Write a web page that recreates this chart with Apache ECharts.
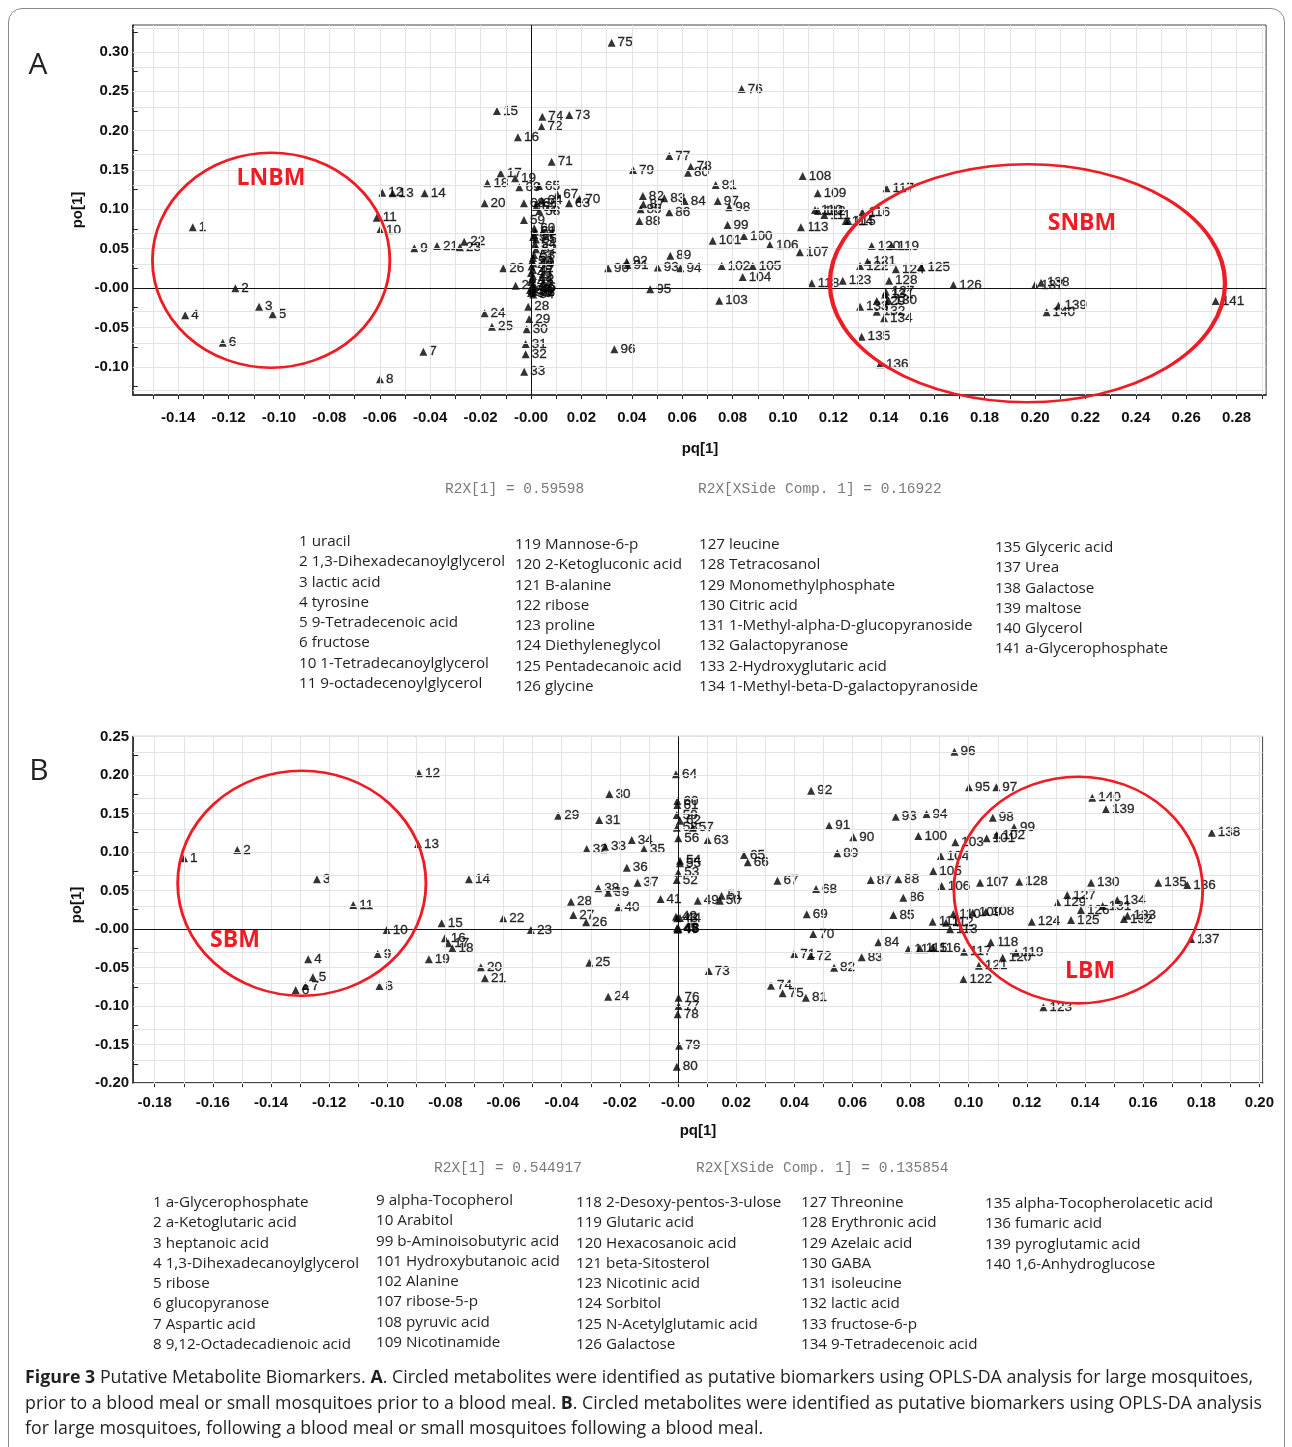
<!DOCTYPE html>
<html>
<head>
<meta charset="utf-8">
<script src="https://cdn.jsdelivr.net/npm/echarts@6/dist/echarts.min.js"></script>
<style>
  html, body { margin: 0; padding: 0; background: #fff; }
  body { width: 1292px; height: 1447px; position: relative; overflow: hidden; }
  #frame { position: absolute; left: 8px; top: 8px; width: 1275px; height: 1470px;
           border: 1px solid #8a8a8a; border-radius: 14px; }
  #chart { position: absolute; left: 0; top: 0; width: 1292px; height: 1447px; }
  .t { position: absolute; white-space: nowrap; color: #111; }
  .c { transform: translate(-50%, -50%); }
  .panel { font: 30px "Open Sans", sans-serif; color: #222; }
  .axname { font: bold 15px "Liberation Sans", Arial, sans-serif; }
  .rot { transform: translate(-50%, -50%) rotate(-90deg); }
  .r2x { font: 14.5px "Liberation Mono", monospace; color: #7a7a7a; transform: translateY(-50%); }
  .tag { font: bold 23px "Open Sans", sans-serif; color: #ee1c24; }
  .leg { position: absolute; font: 15.2px "Open Sans", sans-serif; line-height: 20.3px; color: #231f20; white-space: nowrap; }
  #cap { position: absolute; left: 25px; top: 1364px; font: 17.8px "Open Sans", sans-serif;
         line-height: 25.5px; color: #231f20; white-space: nowrap; }
</style>
</head>
<body>
<div id="frame"></div>
<div id="chart"></div>

<!-- panel A texts -->
<div class="t c panel" style="left:38px;top:62px">A</div>
<div class="t c axname" style="left:700px;top:447px">pq[1]</div>
<div class="t axname rot" style="left:76px;top:210px">po[1]</div>
<div class="t r2x" style="left:445px;top:489px">R2X[1] = 0.59598</div>
<div class="t r2x" style="left:698px;top:489px">R2X[XSide Comp. 1] = 0.16922</div>
<div class="t c tag" style="left:271px;top:176px">LNBM</div>
<div class="t c tag" style="left:1082px;top:221px">SNBM</div>

<div class="leg" style="left:299px;top:530px">1 uracil<br>2 1,3-Dihexadecanoylglycerol<br>3 lactic acid<br>4 tyrosine<br>5 9-Tetradecenoic acid<br>6 fructose<br>10 1-Tetradecanoylglycerol<br>11 9-octadecenoylglycerol</div>
<div class="leg" style="left:515px;top:533px">119 Mannose-6-p<br>120 2-Ketogluconic acid<br>121 B-alanine<br>122 ribose<br>123 proline<br>124 Diethyleneglycol<br>125 Pentadecanoic acid<br>126 glycine</div>
<div class="leg" style="left:699px;top:533px">127 leucine<br>128 Tetracosanol<br>129 Monomethylphosphate<br>130 Citric acid<br>131 1-Methyl-alpha-D-glucopyranoside<br>132 Galactopyranose<br>133 2-Hydroxyglutaric acid<br>134 1-Methyl-beta-D-galactopyranoside</div>
<div class="leg" style="left:995px;top:536px">135 Glyceric acid<br>137 Urea<br>138 Galactose<br>139 maltose<br>140 Glycerol<br>141 a-Glycerophosphate</div>

<!-- panel B texts -->
<div class="t c panel" style="left:39px;top:768px">B</div>
<div class="t c axname" style="left:698px;top:1129px">pq[1]</div>
<div class="t axname rot" style="left:75px;top:905px">po[1]</div>
<div class="t r2x" style="left:434px;top:1168px">R2X[1] = 0.544917</div>
<div class="t r2x" style="left:696px;top:1168px">R2X[XSide Comp. 1] = 0.135854</div>
<div class="t c tag" style="left:235px;top:938px">SBM</div>
<div class="t c tag" style="left:1090px;top:969px">LBM</div>

<div class="leg" style="left:153px;top:1191px">1 a-Glycerophosphate<br>2 a-Ketoglutaric acid<br>3 heptanoic acid<br>4 1,3-Dihexadecanoylglycerol<br>5 ribose<br>6 glucopyranose<br>7 Aspartic acid<br>8 9,12-Octadecadienoic acid</div>
<div class="leg" style="left:376px;top:1189px">9 alpha-Tocopherol<br>10 Arabitol<br>99 b-Aminoisobutyric acid<br>101 Hydroxybutanoic acid<br>102 Alanine<br>107 ribose-5-p<br>108 pyruvic acid<br>109 Nicotinamide</div>
<div class="leg" style="left:576px;top:1191px">118 2-Desoxy-pentos-3-ulose<br>119 Glutaric acid<br>120 Hexacosanoic acid<br>121 beta-Sitosterol<br>123 Nicotinic acid<br>124 Sorbitol<br>125 N-Acetylglutamic acid<br>126 Galactose</div>
<div class="leg" style="left:801px;top:1191px">127 Threonine<br>128 Erythronic acid<br>129 Azelaic acid<br>130 GABA<br>131 isoleucine<br>132 lactic acid<br>133 fructose-6-p<br>134 9-Tetradecenoic acid</div>
<div class="leg" style="left:985px;top:1192px">135 alpha-Tocopherolacetic acid<br>136 fumaric acid<br>139 pyroglutamic acid<br>140 1,6-Anhydroglucose</div>

<div id="cap"><b>Figure 3</b> Putative Metabolite Biomarkers. <b>A</b>. Circled metabolites were identified as putative biomarkers using OPLS-DA analysis for large mosquitoes,<br>prior to a blood meal or small mosquitoes prior to a blood meal. <b>B</b>. Circled metabolites were identified as putative biomarkers using OPLS-DA analysis<br>for large mosquitoes, following a blood meal or small mosquitoes following a blood meal.</div>

<script>
// ---- panel A: metabolites 1..141 (pq[1], po[1]) ----
const pqA = [
  -0.1342, -0.1173, -0.1079, -0.1372, -0.1025, -0.1223, -0.0427, -0.0599, -0.0463, -0.0599,
  -0.0612, -0.0590, -0.0549, -0.0422, -0.0135, -0.0052, -0.0120, -0.0173, -0.0063, -0.0184,
  -0.0373, -0.0265, -0.0282, -0.0184, -0.0155, -0.0110, -0.0061, -0.0011, -0.0007, -0.0017,
  -0.0021, -0.0021, -0.0027, 0.0009, 0.0000, 0.0016, -0.0004, 0.0012, 0.0004, 0.0012,
  0.0002, 0.0008, 0.0000, 0.0004, 0.0008, 0.0000, 0.0008, 0.0002, 0.0010, 0.0004,
  0.0008, 0.0020, 0.0012, 0.0016, 0.0020, 0.0008, 0.0013, 0.0033, -0.0028, 0.0013,
  0.0016, 0.0020, 0.0151, 0.0042, 0.0032, 0.0023, 0.0104, -0.0028, -0.0046, 0.0192,
  0.0082, 0.0042, 0.0152, 0.0045, 0.0320, 0.0836, 0.0549, 0.0634, 0.0405, 0.0623,
  0.0733, 0.0444, 0.0529, 0.0610, 0.0435, 0.0549, 0.0446, 0.0430, 0.0553, 0.0306,
  0.0383, 0.0380, 0.0503, 0.0593, 0.0473, 0.0331, 0.0741, 0.0787, 0.0780, 0.0845,
  0.0721, 0.0757, 0.0747, 0.0840, 0.0880, 0.0948, 0.1067, 0.1078, 0.1138, 0.1127,
  0.1164, 0.1139, 0.1071, 0.1249, 0.1259, 0.1315, 0.1411, 0.1114, 0.1431, 0.1352,
  0.1335, 0.1306, 0.1237, 0.1448, 0.1550, 0.1676, 0.1408, 0.1421, 0.1372, 0.1419,
  0.1405, 0.1372, 0.1306, 0.1401, 0.1312, 0.1385, 0.2000, 0.2024, 0.2093, 0.2046,
  0.2717
];
const poA = [
  0.0771, -0.0004, -0.0237, -0.0347, -0.0334, -0.0694, -0.0809, -0.1160, 0.0504, 0.0737,
  0.0893, 0.1210, 0.1202, 0.1202, 0.2248, 0.1914, 0.1456, 0.1330, 0.1393, 0.1075,
  0.0533, 0.0588, 0.0517, -0.0321, -0.0491, 0.0250, 0.0030, -0.0237, -0.0394, -0.0525,
  -0.0711, -0.0842, -0.1063, -0.0083, -0.0063, 0.0013, -0.0025, -0.0051, -0.0038, -0.0013,
  0.0000, 0.0038, 0.0076, 0.0114, 0.0152, 0.0190, 0.0229, 0.0273, 0.0311, 0.0343,
  0.0381, 0.0491, 0.0419, 0.0559, 0.0616, 0.0648, 0.0673, 0.0978, 0.0863, 0.0758,
  0.0715, 0.1029, 0.1076, 0.1109, 0.1295, 0.1076, 0.1190, 0.1076, 0.1279, 0.1130,
  0.1604, 0.2048, 0.2197, 0.2175, 0.3115, 0.2527, 0.1676, 0.1540, 0.1498, 0.1464,
  0.1308, 0.1168, 0.1139, 0.1105, 0.0999, 0.0961, 0.1063, 0.0851, 0.0410, 0.0250,
  0.0292, 0.0334, 0.0262, 0.0250, -0.0017, -0.0779, 0.1105, 0.1025, 0.0800, 0.0660,
  0.0601, 0.0279, -0.0161, 0.0140, 0.0279, 0.0546, 0.0453, 0.1422, 0.1202, 0.0990,
  0.0927, 0.0978, 0.0771, 0.0851, 0.0851, 0.0961, 0.1266, 0.0060, 0.0533, 0.0533,
  0.0334, 0.0279, 0.0093, 0.0237, 0.0262, 0.0038, -0.0047, 0.0093, -0.0165, -0.0159,
  -0.0083, -0.0301, -0.0237, -0.0385, -0.0618, -0.0969, 0.0038, 0.0067, -0.0225, -0.0309,
  -0.0165
];

// ---- panel B: metabolites 1..140 ----
const pqB = [
  -0.1699, -0.1516, -0.1242, -0.1272, -0.1256, -0.1315, -0.1281, -0.1027, -0.1033, -0.1002,
  -0.1117, -0.0891, -0.0894, -0.0719, -0.0813, -0.0802, -0.0790, -0.0776, -0.0857, -0.0678,
  -0.0664, -0.0601, -0.0506, -0.0240, -0.0305, -0.0316, -0.0360, -0.0368, -0.0412, -0.0236,
  -0.0271, -0.0314, -0.0251, -0.0159, -0.0117, -0.0176, -0.0139, -0.0274, -0.0240, -0.0205,
  -0.0060, -0.0007, -0.0003, 0.0007, -0.0003, 0.0000, -0.0002, 0.0002, 0.0068, 0.0144,
  0.0150, -0.0004, 0.0001, 0.0007, 0.0007, 0.0001, 0.0051, -0.0004, -0.0004, -0.0002,
  -0.0002, 0.0007, 0.0102, -0.0007, 0.0227, 0.0240, 0.0342, 0.0475, 0.0443, 0.0465,
  0.0400, 0.0456, 0.0106, 0.0320, 0.0360, 0.0002, 0.0002, -0.0001, 0.0004, -0.0004,
  0.0440, 0.0537, 0.0632, 0.0689, 0.0741, 0.0775, 0.0663, 0.0758, 0.0548, 0.0603,
  0.0520, 0.0458, 0.0749, 0.0855, 0.1001, 0.0951, 0.1095, 0.1083, 0.1156, 0.0827,
  0.1062, 0.1096, 0.0954, 0.0904, 0.0878, 0.0907, 0.1039, 0.1059, 0.1014, 0.0947,
  0.0876, 0.0922, 0.0936, 0.0792, 0.0832, 0.0878, 0.0984, 0.1076, 0.1163, 0.1117,
  0.1035, 0.0982, 0.1257, 0.1217, 0.1352, 0.1386, 0.1339, 0.1174, 0.1306, 0.1421,
  0.1461, 0.1534, 0.1546, 0.1511, 0.1652, 0.1752, 0.1765, 0.1836, 0.1472, 0.1425
];
const poB = [
  0.0918, 0.1025, 0.0645, -0.0393, -0.0627, -0.0792, -0.0740, -0.0740, -0.0325, -0.0013,
  0.0312, 0.2021, 0.1103, 0.0645, 0.0074, -0.0121, -0.0186, -0.0251, -0.0393, -0.0497,
  -0.0640, 0.0139, -0.0013, -0.0879, -0.0437, 0.0087, 0.0182, 0.0354, 0.1471, 0.1752,
  0.1415, 0.1038, 0.1068, 0.1155, 0.1038, 0.0796, 0.0601, 0.0528, 0.0471, 0.0282,
  0.0389, 0.0160, 0.0139, 0.0143, 0.0013, -0.0004, -0.0006, 0.0004, 0.0367, 0.0367,
  0.0432, 0.0636, 0.0731, 0.0887, 0.0853, 0.1177, 0.1315, 0.1315, 0.1480, 0.1661,
  0.1610, 0.1406, 0.1155, 0.2008, 0.0961, 0.0866, 0.0627, 0.0519, 0.0191, -0.0065,
  -0.0325, -0.0350, -0.0545, -0.0736, -0.0835, -0.0891, -0.0999, -0.1107, -0.1515, -0.1787,
  -0.0891, -0.0502, -0.0368, -0.0173, 0.0182, 0.0406, 0.0636, 0.0645, 0.0982, 0.1190,
  0.1341, 0.1795, 0.1458, 0.1493, 0.1839, 0.2301, 0.1839, 0.1445, 0.1320, 0.1207,
  0.1177, 0.1220, 0.1125, 0.0948, 0.0753, 0.0558, 0.0601, 0.0225, 0.0212, 0.0195,
  0.0095, 0.0082, -0.0004, -0.0264, -0.0251, -0.0251, -0.0294, -0.0173, -0.0307, -0.0372,
  -0.0476, -0.0653, -0.1017, 0.0095, 0.0117, 0.0247, 0.0441, 0.0614, 0.0341, 0.0601,
  0.0299, 0.0130, 0.0173, 0.0376, 0.0601, 0.0571, -0.0130, 0.1250, 0.1554, 0.1704
];

// tick labels
const xLabA = [-0.14, -0.12, -0.10, -0.08, -0.06, -0.04, -0.02, 0, 0.02, 0.04, 0.06, 0.08,
               0.10, 0.12, 0.14, 0.16, 0.18, 0.20, 0.22, 0.24, 0.26, 0.28];
const yLabA = [-0.10, -0.05, 0, 0.05, 0.10, 0.15, 0.20, 0.25, 0.30];
const xLabB = [-0.18, -0.16, -0.14, -0.12, -0.10, -0.08, -0.06, -0.04, -0.02, 0, 0.02, 0.04,
               0.06, 0.08, 0.10, 0.12, 0.14, 0.16, 0.18, 0.20];
const yLabB = [-0.20, -0.15, -0.10, -0.05, 0, 0.05, 0.10, 0.15, 0.20, 0.25];

// circled groups [cx, cy, rx, ry] in data units
const ringsA = [[-0.1031, 0.0353, 0.0471, 0.1365], [0.1970, 0.0060, 0.0784, 0.1511]];
const ringsB = [[-0.1294, 0.0594, 0.0427, 0.1460], [0.1377, 0.0506, 0.0428, 0.1471]];

function steps(a, b, s) {
  const out = [];
  const n = Math.round((b - a) / s);
  for (let i = 0; i <= n; i++) out.push(+(a + i * s).toFixed(4));
  return out;
}
const fmt = v => (Math.abs(v) < 1e-9 ? '-0.00' : v.toFixed(2));

const tickFont = { fontSize: 15, fontWeight: 'bold', color: '#111', fontFamily: 'Liberation Sans, Arial' };

function xAxisOf(grid, min, max, labels, ticks, margin) {
  return {
    gridIndex: grid, type: 'value', min: min, max: max,
    axisLine: { show: true, onZero: false, lineStyle: { color: '#222', width: 1.5 } },
    axisTick: { show: true, customValues: ticks, length: 4, lineStyle: { color: '#222' } },
    axisLabel: Object.assign({ customValues: labels, formatter: fmt, margin: margin }, tickFont),
    splitLine: { show: false }
  };
}
function yAxisOf(grid, min, max, labels, ticks) {
  return {
    gridIndex: grid, type: 'value', min: min, max: max,
    axisLine: { show: true, onZero: false, lineStyle: { color: '#222', width: 1.5 } },
    axisTick: { show: true, inside: true, customValues: ticks, length: 5, lineStyle: { color: '#222' } },
    axisLabel: Object.assign({ customValues: labels, formatter: fmt, margin: 4 }, tickFont),
    splitLine: { show: false }
  };
}

// light grid lines every 0.01 (x) and 0.025 (y)
function gridLines(idx, xt, yt) {
  return {
    type: 'scatter', xAxisIndex: idx, yAxisIndex: idx, data: [], z: 1, silent: true,
    markLine: {
      silent: true, symbol: ['none', 'none'], animation: false,
      label: { show: false },
      lineStyle: { color: '#e3e3e3', width: 1, type: 'solid' },
      data: xt.map(v => ({ xAxis: v })).concat(yt.map(v => ({ yAxis: v })))
    }
  };
}

function points(idx, xs, ys) {
  return {
    type: 'scatter', xAxisIndex: idx, yAxisIndex: idx, z: 3,
    symbol: 'triangle', symbolSize: 8,
    itemStyle: { color: '#000' },
    data: xs.map((x, i) => [x, ys[i], String(i + 1)]),
    label: {
      show: true, position: 'right', distance: 2,
      formatter: p => p.data[2],
      fontSize: 13.5, fontFamily: 'Liberation Sans, Arial', color: '#000',
      textBorderColor: '#000', textBorderWidth: 0.35
    },
    markLine: {
      silent: true, symbol: ['none', 'none'], animation: false,
      label: { show: false },
      lineStyle: { color: '#111', width: 1, type: 'solid' },
      data: [{ xAxis: 0 }, { yAxis: 0 }]
    }
  };
}

const xTickA = steps(-0.15, 0.29, 0.01), yTickA = steps(-0.125, 0.325, 0.025);
const xTickB = steps(-0.18, 0.20, 0.01), yTickB = steps(-0.20, 0.25, 0.025);

const chart = echarts.init(document.getElementById('chart'), null, { renderer: 'canvas' });
chart.setOption({
  animation: false,
  backgroundColor: 'transparent',
  grid: [
    { left: 132.8, top: 25, width: 1133.3, height: 370.1, show: true, borderColor: '#444', borderWidth: 1 },
    { left: 133.2, top: 736.4, width: 1129.4, height: 346.7, show: true, borderColor: '#444', borderWidth: 1 }
  ],
  xAxis: [
    xAxisOf(0, -0.158, 0.2917, xLabA, xTickA, 15),
    xAxisOf(1, -0.1874, 0.2011, xLabB, xTickB, 12)
  ],
  yAxis: [
    yAxisOf(0, -0.136, 0.334, yLabA, yTickA),
    yAxisOf(1, -0.20, 0.25, yLabB, yTickB)
  ],
  series: [
    gridLines(0, xTickA, yTickA),
    gridLines(1, xTickB, yTickB),
    points(0, pqA, poA),
    points(1, pqB, poB)
  ]
});

// red ellipses around the biomarker groups
function ringGraphics(gridIndex, rings) {
  return rings.map(r => {
    const c = chart.convertToPixel({ gridIndex: gridIndex }, [r[0], r[1]]);
    const ex = chart.convertToPixel({ gridIndex: gridIndex }, [r[0] + r[2], r[1]]);
    const ey = chart.convertToPixel({ gridIndex: gridIndex }, [r[0], r[1] + r[3]]);
    const rx = ex[0] - c[0], ry = c[1] - ey[1];
    return {
      type: 'circle', x: c[0], y: c[1], scaleX: rx / ry, scaleY: 1, silent: true, z: 10,
      shape: { cx: 0, cy: 0, r: ry },
      style: { fill: 'none', stroke: '#ee1c24', lineWidth: 2.6, strokeNoScale: true }
    };
  });
}
chart.setOption({ graphic: ringGraphics(0, ringsA).concat(ringGraphics(1, ringsB)) });
</script>
</body>
</html>
